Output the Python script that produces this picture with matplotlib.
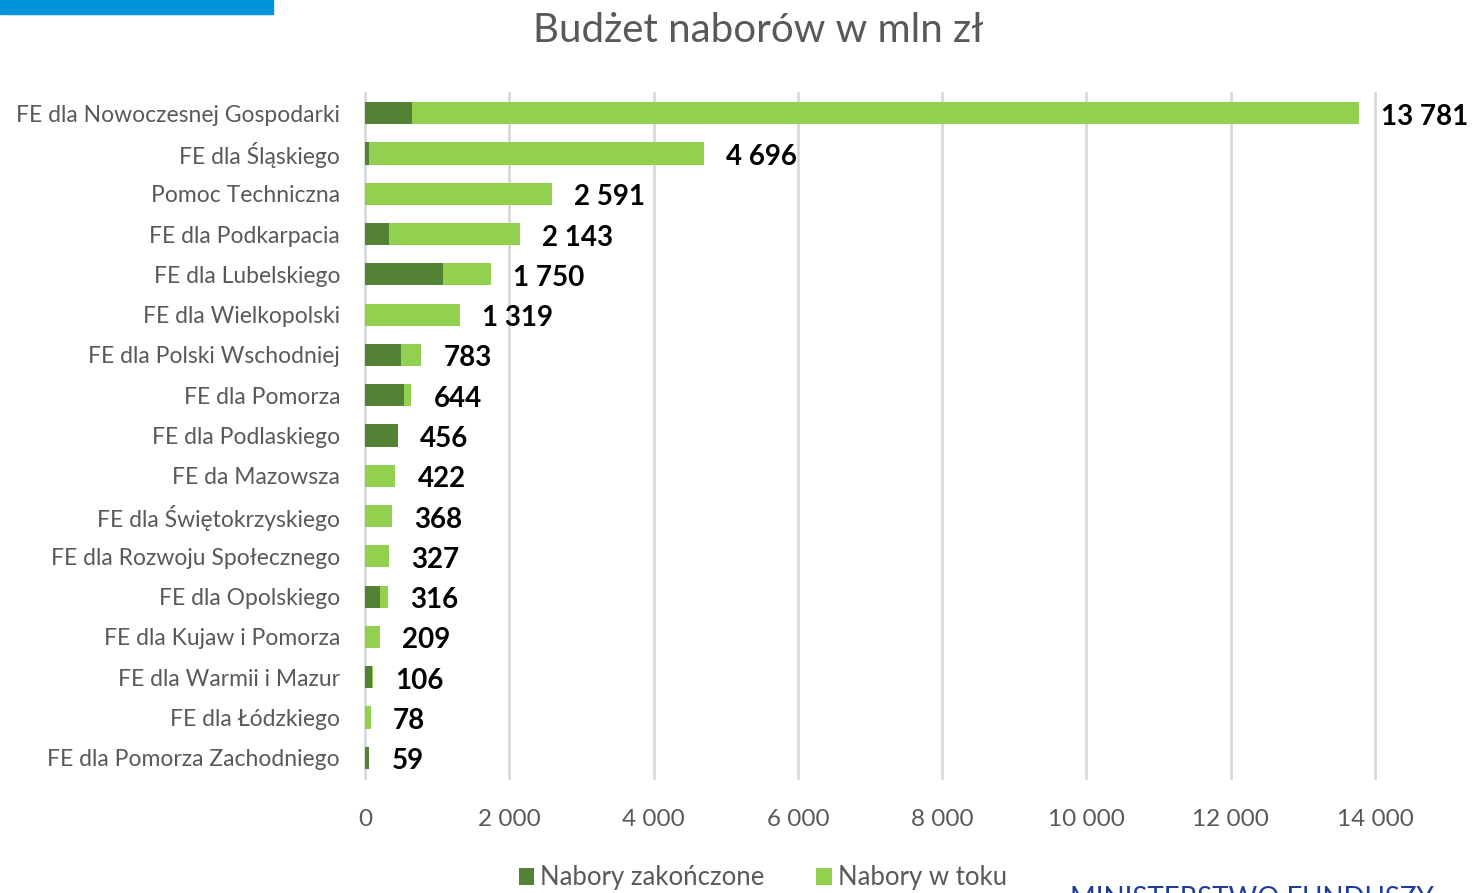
import matplotlib.pyplot as plt
import numpy as np

plt.rcParams["font.family"] = ["Lato", "DejaVu Sans"]

categories = [
    "FE dla Nowoczesnej Gospodarki",
    "FE dla Śląskiego",
    "Pomoc Techniczna",
    "FE dla Podkarpacia",
    "FE dla Lubelskiego",
    "FE dla Wielkopolski",
    "FE dla Polski Wschodniej",
    "FE dla Pomorza",
    "FE dla Podlaskiego",
    "FE da Mazowsza",
    "FE dla Świętokrzyskiego",
    "FE dla Rozwoju Społecznego",
    "FE dla Opolskiego",
    "FE dla Kujaw i Pomorza",
    "FE dla Warmii i Mazur",
    "FE dla Łódzkiego",
    "FE dla Pomorza Zachodniego",
]
totals = [13781, 4696, 2591, 2143, 1750, 1319, 783, 644, 456, 422, 368, 327, 316, 209, 106, 78, 59]
closed = [650, 50, 0, 330, 1080, 0, 500, 545, 456, 0, 0, 0, 212, 0, 95, 0, 59]
ongoing = [t - c for t, c in zip(totals, closed)]
total_labels = ["13 781", "4 696", "2 591", "2 143", "1 750", "1 319", "783", "644",
                "456", "422", "368", "327", "316", "209", "106", "78", "59"]
xticks = [0, 2000, 4000, 6000, 8000, 10000, 12000, 14000]
xtick_labels = ["0", "2 000", "4 000", "6 000", "8 000", "10 000", "12 000", "14 000"]

dark = "#548235"
light = "#92D050"
grey = "#595959"

fig = plt.figure(figsize=(14.84, 8.93), dpi=100)
ax = fig.add_axes([365 / 1484, 1 - 778 / 893, 1010 / 1484, 685 / 893])

y = np.arange(len(categories))
ax.barh(y, closed, height=0.55, color=dark, label="Nabory zakończone", zorder=3)
ax.barh(y, ongoing, left=closed, height=0.55, color=light, label="Nabory w toku", zorder=3)

for yi, t, lab in zip(y, totals, total_labels):
    ax.annotate(lab, (t, yi), xytext=(16, -2.5), textcoords="offset points",
                ha="left", va="center", fontsize=20, fontweight="bold", color="black")

ax.set_xlim(0, 14000)
ax.set_ylim(len(categories) - 0.5, -0.5)
ax.set_xticks(xticks)
ax.set_xticklabels(xtick_labels)
ax.set_yticks(y)
ax.set_yticklabels(categories)
ax.tick_params(axis="x", length=0, labelcolor=grey, labelsize=17.5, pad=22)
ax.tick_params(axis="y", length=0, labelcolor=grey, labelsize=16.5, pad=18)
ax.grid(axis="x", color="#D9D9D9", linewidth=2, zorder=0)
for line in ax.get_xgridlines():
    line.set_clip_on(False)
for s in ax.spines.values():
    s.set_visible(False)

fig.text(758 / 1484, 1 - 30 / 893, "Budżet naborów w mln zł", ha="center", va="center",
         fontsize=29, color=grey)

ax.legend(loc="center", bbox_to_anchor=(0.394, -100 / 685),
          ncol=2, frameon=False, fontsize=18.5, labelcolor=grey, handlelength=0.6,
          handleheight=0.6, handletextpad=0.25, columnspacing=2.0)

# blue header strip and cut-off footer text
fig.patches.append(plt.Rectangle((0, 1 - 14 / 893), 273 / 1484, 14 / 893,
                                 transform=fig.transFigure, color="#0095DA"))
fig.text(1070 / 1484, 1 - 886 / 893, "MINISTERSTWO FUNDUSZY", ha="left", va="top",
         fontsize=20, color="#1F3C9A")

fig.savefig("out.png", dpi=100)
